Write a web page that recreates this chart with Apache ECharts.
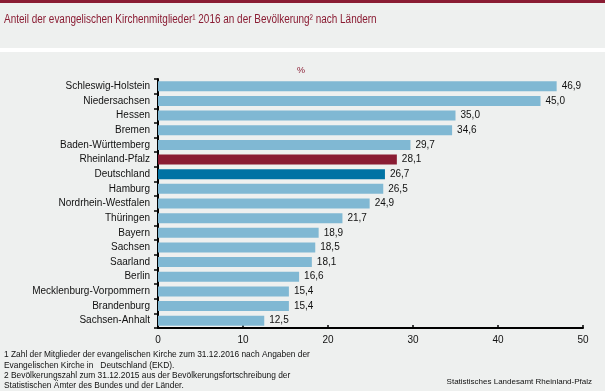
<!DOCTYPE html>
<html><head><meta charset="utf-8">
<script src="https://cdn.jsdelivr.net/npm/echarts@6/dist/echarts.min.js"></script>
<style>html,body{margin:0;padding:0;background:#fff;}#c{width:605px;height:391px;}</style>
</head><body><div id="c"></div>
<script>
const categories = ["Schleswig-Holstein","Niedersachsen","Hessen","Bremen","Baden-Württemberg","Rheinland-Pfalz","Deutschland","Hamburg","Nordrhein-Westfalen","Thüringen","Bayern","Sachsen","Saarland","Berlin","Mecklenburg-Vorpommern","Brandenburg","Sachsen-Anhalt"];
const values = [46.9,45.0,35.0,34.6,29.7,28.1,26.7,26.5,24.9,21.7,18.9,18.5,18.1,16.6,15.4,15.4,12.5];
const xTicks = [0,10,20,30,40,50];
const highlight = {"Rheinland-Pfalz":"#8a1c33","Deutschland":"#0073a4"};
const baseColor = "#80b8d3";
const FONT = "Liberation Sans, Arial, sans-serif";

const chart = echarts.init(document.getElementById('c'));
chart.setOption({
  backgroundColor: '#ffffff',
  animation: false,
  graphic: [
    {type:'rect', shape:{x:0,y:0,width:605,height:3}, style:{fill:'#8a1c33'}, z:-10},
    {type:'rect', shape:{x:0,y:3,width:605,height:45}, style:{fill:'#eef0ef'}, z:-10},
    {type:'rect', shape:{x:0,y:52,width:605,height:339}, style:{fill:'#eef0ef'}, z:-10},
    {type:'text', x:4, y:14, scaleX:0.83, style:{text:'Anteil der evangelischen Kirchenmitglieder¹ 2016 an der Bevölkerung² nach Ländern', fill:'#8a1c33', font:'12px '+FONT, verticalAlign:'top', align:'left'}},
    {type:'text', left:297, top:66, style:{text:'%', fill:'#8a1c33', font:'9px '+FONT}},
    {type:'text', left:4, top:350, style:{text:'1 Zahl der Mitglieder der evangelischen Kirche zum 31.12.2016 nach Angaben der\nEvangelischen Kirche in   Deutschland (EKD).\n2 Bevölkerungszahl zum 31.12.2015 aus der Bevölkerungsfortschreibung der\nStatistischen Ämter des Bundes und der Länder.', fill:'#111', font:'8.4px '+FONT, lineHeight:10.3}},
    {type:'text', right:13, top:378, style:{text:'Statistisches Landesamt Rheinland-Pfalz', fill:'#111', font:'8px '+FONT}}
  ],
  grid: {left:158, right:22, top:79, bottom:63, containLabel:false},
  xAxis: {
    type:'value', min:0, max:50, interval:10,
    axisLine:{show:true, lineStyle:{color:'#000', width:2}},
    axisTick:{show:true, inside:true, length:3, lineStyle:{color:'#000', width:1.5}},
    splitLine:{show:false},
    axisLabel:{color:'#111', fontSize:10, fontFamily:FONT, margin:7,
      formatter: v => xTicks.includes(v) ? String(v) : ''}
  },
  yAxis: {
    type:'category', data:categories, inverse:true,
    axisLine:{show:true, lineStyle:{color:'#000', width:2}},
    axisTick:{show:true, length:4, lineStyle:{color:'#000', width:1.5}},
    axisLabel:{color:'#111', fontSize:10, fontFamily:FONT, margin:8}
  },
  series: [{
    type:'bar', barWidth:10,
    data: values.map((v,i)=>({value:v, itemStyle:{color: highlight[categories[i]] || baseColor}})),
    label:{show:true, position:'right', distance:5, color:'#111', fontSize:10, fontFamily:FONT,
      formatter: p => p.value.toFixed(1).replace('.', ',')}
  }]
});
</script></body></html>
